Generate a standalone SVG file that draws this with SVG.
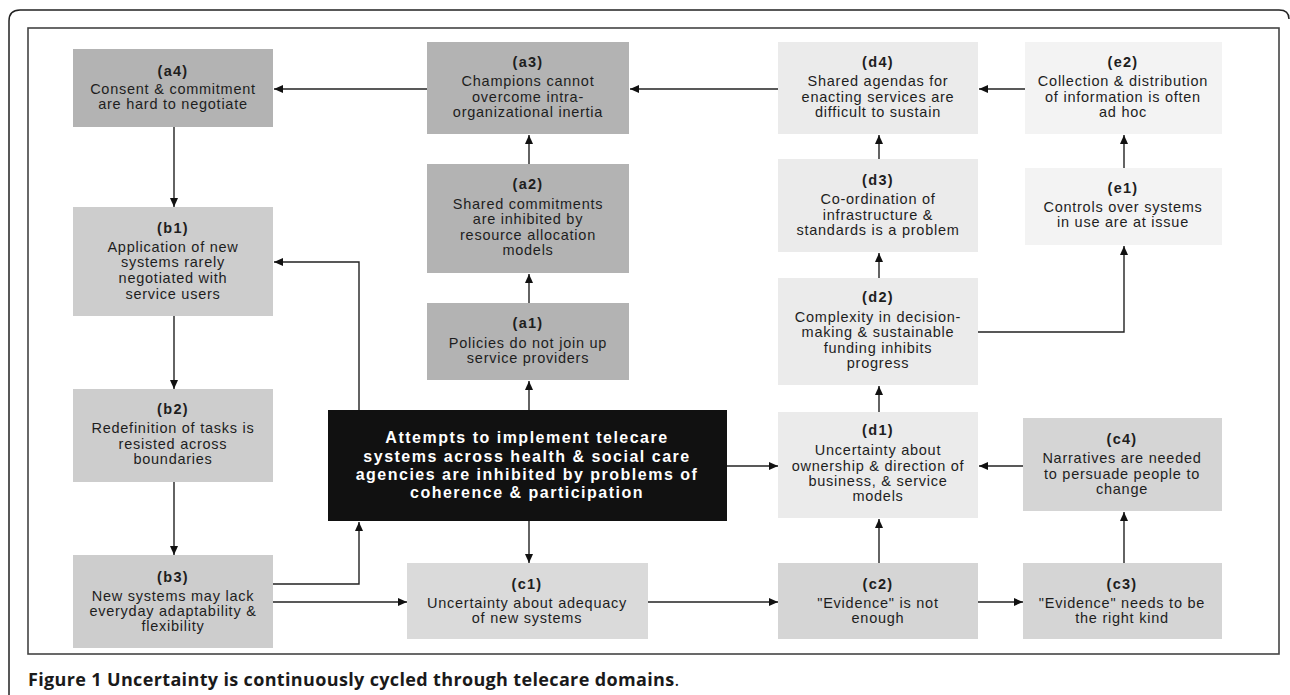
<svg xmlns="http://www.w3.org/2000/svg" width="1290" height="695" viewBox="0 0 1290 695">
<style>
.frame{fill:none;stroke:#222;stroke-width:1.5}
.inner{fill:#fff;stroke:#444;stroke-width:1.6}
.a{fill:#b3b3b3}.b{fill:#cdcdcd}.c1{fill:#dadada}.c{fill:#d5d5d5}.d{fill:#ebebeb}.e{fill:#f3f3f3}
.k{fill:#111}
text{font-family:"Liberation Sans",Arial,sans-serif;text-anchor:middle;dominant-baseline:central;fill:#1e1e1e}
.lbl{font-size:14.5px;font-weight:bold;letter-spacing:1.3px}
.t{font-size:14.5px;letter-spacing:0.75px}
.w{font-size:16px;font-weight:bold;letter-spacing:1.5px;fill:#fff}
.cap{font-family:"Open Sans","Liberation Sans",sans-serif;font-size:18px;font-weight:bold;letter-spacing:0.35px;text-anchor:start;dominant-baseline:auto;fill:#1a1a1a}
.conn path{fill:none;stroke:#222;stroke-width:1.4}
</style>
<defs>
<marker id="ah" markerUnits="userSpaceOnUse" markerWidth="10" markerHeight="9" refX="9" refY="4" orient="auto">
<path d="M0,0 L9,4 L0,8 z" fill="#111"/>
</marker>
</defs>
<path class="frame" d="M9,695 L9,21 Q9,10 20,10 L1279,10 Q1289,10 1289,19"/>
<rect class="inner" x="28" y="28" width="1251" height="626"/>

<g id="a4"><rect class="a" x="73" y="49" width="200" height="78"/>
<text x="173" y="71" class="lbl">(a4)</text><text x="173" y="89" class="t">Consent &amp; commitment</text><text x="173" y="104" class="t">are hard to negotiate</text></g>
<g id="a3"><rect class="a" x="427" y="42" width="202" height="92"/>
<text x="528" y="62" class="lbl">(a3)</text><text x="528" y="81" class="t">Champions cannot</text><text x="528" y="97" class="t">overcome intra-</text><text x="528" y="112" class="t">organizational inertia</text></g>
<g id="a2"><rect class="a" x="427" y="164" width="202" height="109"/>
<text x="528" y="184" class="lbl">(a2)</text><text x="528" y="204" class="t">Shared commitments</text><text x="528" y="219" class="t">are inhibited by</text><text x="528" y="235" class="t">resource allocation</text><text x="528" y="250" class="t">models</text></g>
<g id="a1"><rect class="a" x="427" y="303" width="202" height="77"/>
<text x="528" y="323" class="lbl">(a1)</text><text x="528" y="343" class="t">Policies do not join up</text><text x="528" y="358" class="t">service providers</text></g>
<g id="center"><rect class="k" x="328" y="410" width="399" height="111"/>
<text x="527" y="437" class="w">Attempts to implement telecare</text><text x="527" y="456" class="w">systems across health &amp; social care</text><text x="527" y="474" class="w">agencies are inhibited by problems of</text><text x="527" y="492" class="w">coherence &amp; participation</text></g>
<g id="b1"><rect class="b" x="73" y="207" width="200" height="109"/>
<text x="173" y="228" class="lbl">(b1)</text><text x="173" y="247" class="t">Application of new</text><text x="173" y="262" class="t">systems rarely</text><text x="173" y="278" class="t">negotiated with</text><text x="173" y="294" class="t">service users</text></g>
<g id="b2"><rect class="b" x="73" y="389" width="200" height="93"/>
<text x="173" y="409" class="lbl">(b2)</text><text x="173" y="428" class="t">Redefinition of tasks is</text><text x="173" y="444" class="t">resisted across</text><text x="173" y="459" class="t">boundaries</text></g>
<g id="b3"><rect class="b" x="73" y="555" width="200" height="93"/>
<text x="173" y="577" class="lbl">(b3)</text><text x="173" y="596" class="t">New systems may lack</text><text x="173" y="611" class="t">everyday adaptability &amp;</text><text x="173" y="626" class="t">flexibility</text></g>
<g id="c1"><rect class="c1" x="407" y="563" width="241" height="76"/>
<text x="527" y="584" class="lbl">(c1)</text><text x="527" y="603" class="t">Uncertainty about adequacy</text><text x="527" y="618" class="t">of new systems</text></g>
<g id="c2"><rect class="c" x="778" y="563" width="200" height="76"/>
<text x="878" y="584" class="lbl">(c2)</text><text x="878" y="603" class="t">"Evidence" is not</text><text x="878" y="618" class="t">enough</text></g>
<g id="c3"><rect class="c" x="1023" y="563" width="199" height="76"/>
<text x="1122" y="584" class="lbl">(c3)</text><text x="1122" y="603" class="t">"Evidence" needs to be</text><text x="1122" y="618" class="t">the right kind</text></g>
<g id="c4"><rect class="c" x="1023" y="418" width="199" height="93"/>
<text x="1122" y="439" class="lbl">(c4)</text><text x="1122" y="458" class="t">Narratives are needed</text><text x="1122" y="474" class="t">to persuade people to</text><text x="1122" y="489" class="t">change</text></g>
<g id="d1"><rect class="d" x="778" y="412" width="200" height="106"/>
<text x="878" y="430" class="lbl">(d1)</text><text x="878" y="450" class="t">Uncertainty about</text><text x="878" y="466" class="t">ownership &amp; direction of</text><text x="878" y="481" class="t">business, &amp; service</text><text x="878" y="496" class="t">models</text></g>
<g id="d2"><rect class="d" x="778" y="278" width="200" height="107"/>
<text x="878" y="297" class="lbl">(d2)</text><text x="878" y="317" class="t">Complexity in decision-</text><text x="878" y="332" class="t">making &amp; sustainable</text><text x="878" y="348" class="t">funding inhibits</text><text x="878" y="363" class="t">progress</text></g>
<g id="d3"><rect class="d" x="778" y="159" width="200" height="93"/>
<text x="878" y="180" class="lbl">(d3)</text><text x="878" y="199" class="t">Co-ordination of</text><text x="878" y="215" class="t">infrastructure &amp;</text><text x="878" y="230" class="t">standards is a problem</text></g>
<g id="d4"><rect class="d" x="778" y="42" width="200" height="92"/>
<text x="878" y="62" class="lbl">(d4)</text><text x="878" y="81" class="t">Shared agendas for</text><text x="878" y="97" class="t">enacting services are</text><text x="878" y="112" class="t">difficult to sustain</text></g>
<g id="e2"><rect class="e" x="1025" y="42" width="197" height="92"/>
<text x="1123" y="62" class="lbl">(e2)</text><text x="1123" y="81" class="t">Collection &amp; distribution</text><text x="1123" y="97" class="t">of information is often</text><text x="1123" y="112" class="t">ad hoc</text></g>
<g id="e1"><rect class="e" x="1025" y="168" width="197" height="77"/>
<text x="1123" y="188" class="lbl">(e1)</text><text x="1123" y="207" class="t">Controls over systems</text><text x="1123" y="222" class="t">in use are at issue</text></g>

<g class="conn">
<path d="M778,89 H630" marker-end="url(#ah)"/>
<path d="M427,89 H274" marker-end="url(#ah)"/>
<path d="M1025,89 H979" marker-end="url(#ah)"/>
<path d="M174,127 V207" marker-end="url(#ah)"/>
<path d="M174,316 V389" marker-end="url(#ah)"/>
<path d="M174,482 V555" marker-end="url(#ah)"/>
<path d="M529,164 V135" marker-end="url(#ah)"/>
<path d="M529,303 V274" marker-end="url(#ah)"/>
<path d="M529,410 V381" marker-end="url(#ah)"/>
<path d="M529,521 V563" marker-end="url(#ah)"/>
<path d="M359,410 V262 H274" marker-end="url(#ah)"/>
<path d="M273,584 H359 V522" marker-end="url(#ah)"/>
<path d="M273,602 H407" marker-end="url(#ah)"/>
<path d="M648,602 H778" marker-end="url(#ah)"/>
<path d="M978,602 H1023" marker-end="url(#ah)"/>
<path d="M1124,563 V512" marker-end="url(#ah)"/>
<path d="M1023,466 H979" marker-end="url(#ah)"/>
<path d="M879,563 V519" marker-end="url(#ah)"/>
<path d="M727,466 H778" marker-end="url(#ah)"/>
<path d="M879,412 V386" marker-end="url(#ah)"/>
<path d="M879,278 V253" marker-end="url(#ah)"/>
<path d="M879,159 V135" marker-end="url(#ah)"/>
<path d="M978,332 H1124 V246" marker-end="url(#ah)"/>
<path d="M1124,168 V135" marker-end="url(#ah)"/>
</g>

<text class="cap" x="28" y="686">Figure 1 Uncertainty is continuously cycled through telecare domains<tspan font-weight="normal">.</tspan></text>
</svg>
